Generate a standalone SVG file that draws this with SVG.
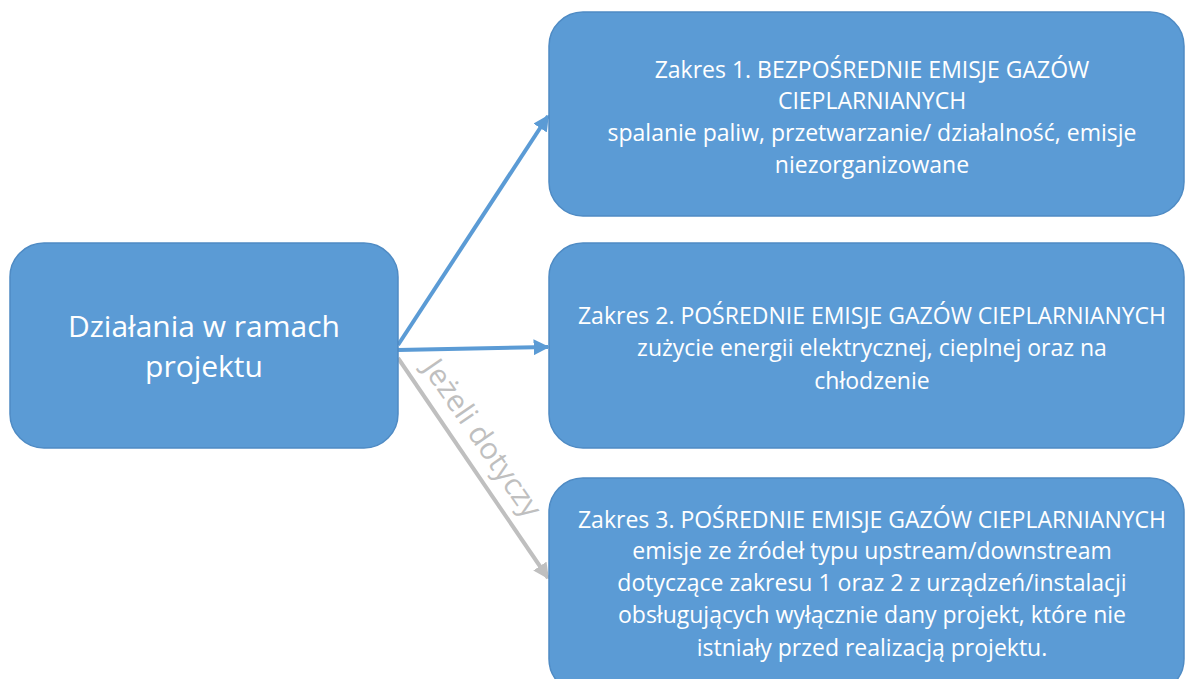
<svg xmlns="http://www.w3.org/2000/svg" width="1186" height="679" viewBox="0 0 1186 679">
<defs>
<style>
.box{fill:#5b9bd5;stroke:#4f8bc4;stroke-width:1.5}
.t{fill:#ffffff;font-family:"Open Sans","Liberation Sans",sans-serif;text-anchor:middle}
.s{font-size:23px}
.b{font-size:30px}
.blue{stroke:#5b9bd5;stroke-width:4;fill:none}
.gray{stroke:#bfbfbf;stroke-width:4;fill:none}
.lbl{fill:#bfbfbf;font-family:"Open Sans","Liberation Sans",sans-serif;font-size:30px;text-anchor:middle}
</style>
<marker id="ab" viewBox="0 0 10 10" refX="9" refY="5" markerWidth="4" markerHeight="4" orient="auto" markerUnits="strokeWidth"><path d="M0,0 L10,5 L0,10 z" fill="#5b9bd5"/></marker>
<marker id="ag" viewBox="0 0 10 10" refX="9" refY="5" markerWidth="4" markerHeight="4" orient="auto" markerUnits="strokeWidth"><path d="M0,0 L10,5 L0,10 z" fill="#bfbfbf"/></marker>
</defs>
<rect width="1186" height="679" fill="#ffffff"/>
<g id="connectors">
<line class="blue" x1="398" y1="345" x2="548" y2="116" marker-end="url(#ab)"/>
<line class="blue" x1="398" y1="350" x2="548" y2="347" marker-end="url(#ab)"/>
<line class="gray" x1="398" y1="358" x2="548" y2="578" marker-end="url(#ag)"/>
<text class="lbl" transform="translate(474,444) rotate(55.5)">Jeżeli dotyczy</text>
</g>
<g id="n0">
<rect class="box" x="10" y="243" width="388" height="205" rx="34"/>
<text class="t b" x="204" y="337">Działania w ramach</text>
<text class="t b" x="204" y="377">projektu</text>
</g>
<g id="n1">
<rect class="box" x="549" y="12" width="635" height="204" rx="34"/>
<text class="t s" x="872" y="78">Zakres 1. BEZPOŚREDNIE EMISJE GAZÓW</text>
<text class="t s" x="872" y="109">CIEPLARNIANYCH</text>
<text class="t s" x="872" y="141">spalanie paliw, przetwarzanie/ działalność, emisje</text>
<text class="t s" x="872" y="173">niezorganizowane</text>
</g>
<g id="n2">
<rect class="box" x="549" y="243" width="635" height="205" rx="34"/>
<text class="t s" x="872" y="324">Zakres 2. POŚREDNIE EMISJE GAZÓW CIEPLARNIANYCH</text>
<text class="t s" x="872" y="356">zużycie energii elektrycznej, cieplnej oraz na</text>
<text class="t s" x="872" y="389">chłodzenie</text>
</g>
<g id="n3">
<rect class="box" x="549" y="478" width="635" height="215" rx="34"/>
<text class="t s" x="872" y="528">Zakres 3. POŚREDNIE EMISJE GAZÓW CIEPLARNIANYCH</text>
<text class="t s" x="872" y="559">emisje ze źródeł typu upstream/downstream</text>
<text class="t s" x="872" y="591">dotyczące zakresu 1 oraz 2 z urządzeń/instalacji</text>
<text class="t s" x="872" y="623">obsługujących wyłącznie dany projekt, które nie</text>
<text class="t s" x="872" y="656">istniały przed realizacją projektu.</text>
</g>
</svg>
